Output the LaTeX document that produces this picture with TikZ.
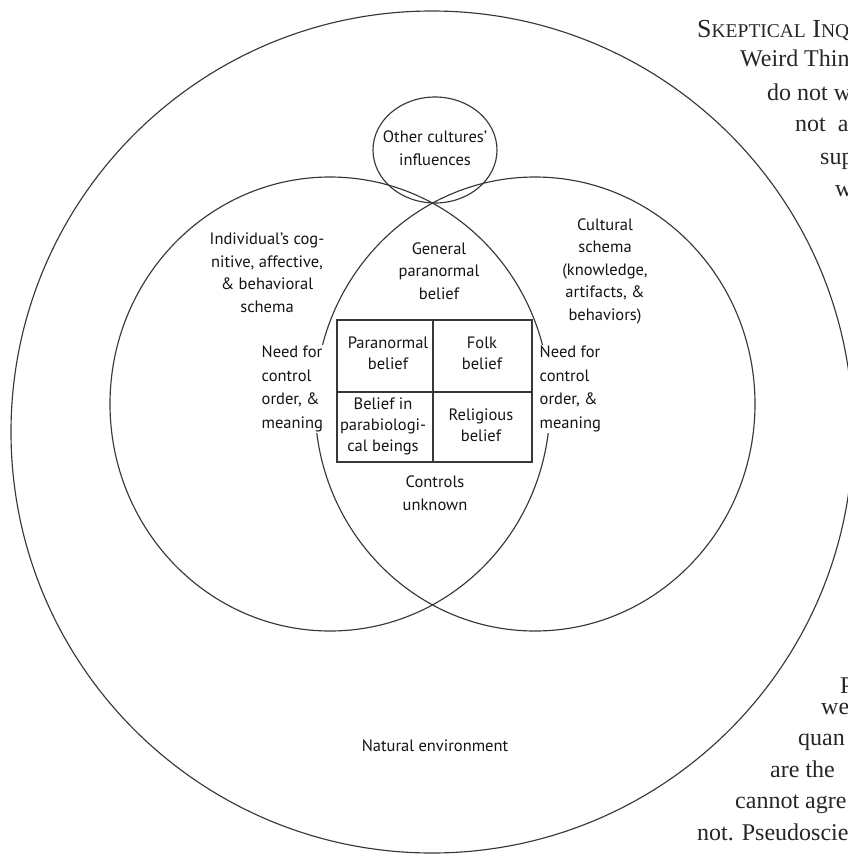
\documentclass[tikz,border=0pt]{standalone}
\usepackage{fontspec}
\setmainfont{PT Sans}
\newfontfamily\pageserif{Liberation Serif}
\usetikzlibrary{shapes.geometric}
\begin{document}
\begin{tikzpicture}[x=1pt,y=-1pt,
  ring/.style={draw=black!78, line width=1.15pt, inner sep=0pt},
  lbl/.style={font=\fontsize{16.5}{22.5}\selectfont, text=black!92, align=center, inner sep=1.5pt, fill=white},
  lbll/.style={lbl, align=left, anchor=west, font=\fontsize{16.5}{23.5}\selectfont},
  celllbl/.style={lbl, fill=none, font=\fontsize{16.5}{21}\selectfont},
  cellbox/.style={draw=black!78, line width=1.15pt},
  pagetxt/.style={font=\pageserif\fontsize{24}{24}\selectfont, text=black!85, anchor=base west, inner sep=0pt}]
\useasboundingbox (0,0) rectangle (848,855);
% circles
\node[ring, circle, minimum size=842pt] (env) at (432,432) {};
\node[ring, ellipse, minimum width=440pt, minimum height=454pt] (indiv) at (330,404) {};
\node[ring, ellipse, minimum width=440pt, minimum height=454pt] (cult) at (535,404) {};
\node[ring, ellipse, minimum width=124pt, minimum height=106pt] (other) at (435,150) {};
% box
\node[cellbox, minimum width=195pt, minimum height=142pt, inner sep=0pt] (grid) at (434.5,391) {};
\coordinate (gt) at (433,320); \coordinate (gb) at (433,462);
\coordinate (gl) at (337,392); \coordinate (gr) at (532,392);
\draw[cellbox] (gt) -- (gb);
\draw[cellbox] (gl) -- (gr);
% labels
\node[lbl, fill=none] (otxt) at (435,148) {Other cultures'\\influences};
\node[lbl] (itxt) at (267,273) {Individual's cog-\\nitive, affective,\\\& behavioral\\schema};
\node[lbl] (gtxt) at (439,271) {General\\paranormal\\belief};
\node[lbl] (ctxt) at (605,271) {Cultural\\schema\\(knowledge,\\artifacts, \&\\behaviors)};
\node[lbll] (nl) at (260,389) {Need for\\control\\order, \&\\meaning};
\node[lbll] (nr) at (538,389) {Need for\\control\\order, \&\\meaning};
\node[celllbl] (pb) at (388,353) {Paranormal\\belief};
\node[celllbl] (fb) at (482,353) {Folk\\belief};
\node[celllbl] (bp) at (383,426) {Belief in\\parabiologi-\\cal beings};
\node[celllbl] (rb) at (481,425) {Religious\\belief};
\node[lbl] (ctl) at (435,493) {Controls\\unknown};
\node[lbl] (nat) at (435,746) {Natural environment};
% page text
\node[pagetxt, font=\pageserif\fontsize{26}{26}\selectfont] (p1) at (697,37) {S{\fontsize{19.5}{19.5}\selectfont KEPTICAL} I{\fontsize{19.5}{19.5}\selectfont NQ}};
\node[pagetxt] (p2) at (740,66) {Weird Thin};
\node[pagetxt] (p3) at (767,100) {do not w};
\node[pagetxt] (p4) at (795,131) {not\ \ a};
\node[pagetxt] (p5) at (820,164) {sup};
\node[pagetxt] (p6) at (835,196) {w};
\node[pagetxt] (q1) at (840,693) {P};
\node[pagetxt] (q2) at (821,714) {we};
\node[pagetxt] (q3) at (798,745) {quan};
\node[pagetxt] (q4) at (770,777) {are the};
\node[pagetxt] (q5) at (735,808) {cannot agre};
\node[pagetxt] (q6) at (697,840) {not. Pseudoscie};
\end{tikzpicture}
\end{document}
